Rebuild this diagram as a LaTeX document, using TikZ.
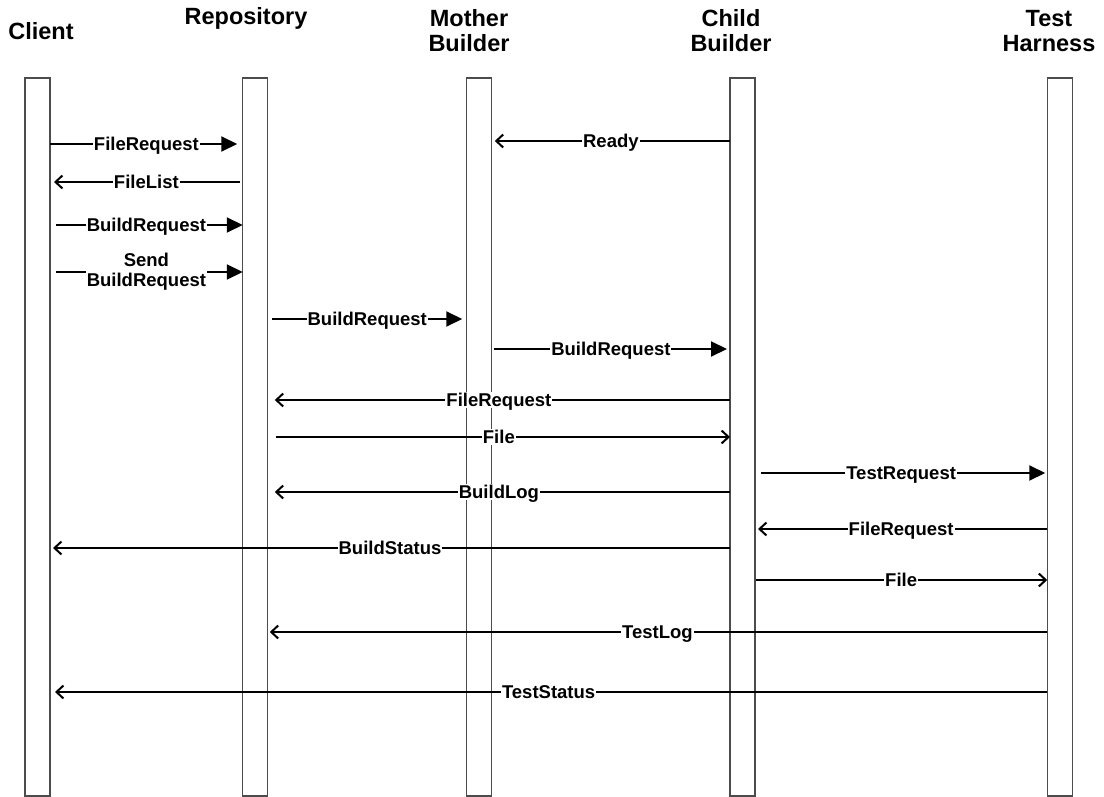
\documentclass[tikz,border=0pt]{standalone}
\usepackage{fontspec}
\setmainfont{Liberation Sans}
\usetikzlibrary{arrows.meta}
\begin{document}
\begin{tikzpicture}[x=1pt,y=-1pt,
  life/.style={draw=black!70,line width=1.2pt,fill=none,minimum width=25pt,minimum height=718pt,inner sep=0pt,outer sep=0pt},
  title/.style={font=\fontsize{23.5}{25}\selectfont\bfseries,align=center,inner sep=0pt},
  lab/.style={font=\fontsize{18.5}{20}\selectfont\bfseries,fill=white,inner sep=1pt,text height=13.3pt,text depth=0pt},
  lab2/.style={font=\fontsize{18.5}{20}\selectfont\bfseries,fill=white,inner sep=1pt,align=center},
  msgblock/.style={line width=2pt,-{Triangle[length=16pt,width=15pt]}},
  msgopen/.style={line width=2pt,-{Straight Barb[length=7pt,width=13pt,line width=2pt]}}]
\useasboundingbox (0,0) rectangle (1104,797);
% lifelines
\node[life] (C) at (37.5,437) {};
\node[life] (R) at (255.25,437) {};
\node[life] (M) at (479.25,437) {};
\node[life] (K) at (742.5,437) {};
\node[life] (T) at (1059.75,437) {};
% titles
\node[title] (tC) at (41,31) {Client};
\node[title] (tR) at (246,18) {Repository};
\node[title] (tM) at (469,31) {Mother\\Builder};
\node[title] (tK) at (731,31) {Child\\Builder};
\node[title] (tT) at (1049,31) {Test\\Harness};
% messages
\draw[msgblock,shorten >=5.5pt] (C.east |- 0,144) -- node[lab]{FileRequest} (R.west |- 0,144);
\draw[msgopen,shorten <=2.5pt,shorten >=4pt] (R.west |- 0,182) -- node[lab]{FileList} (C.east |- 0,182);
\draw[msgblock,shorten <=6pt] (C.east |- 0,225) -- node[lab]{BuildRequest} (R.west |- 0,225);
\draw[msgblock,shorten <=6pt] (C.east |- 0,272) -- node[lab2]{Send\\BuildRequest} (R.west |- 0,272);
\draw[msgblock,shorten <=4pt,shorten >=4.5pt] (R.east |- 0,319) -- node[lab]{BuildRequest} (M.west |- 0,319);
\draw[msgopen,shorten <=0pt,shorten >=3pt] (K.west |- 0,141) -- node[lab]{Ready} (M.east |- 0,141);
\draw[msgblock,shorten <=2pt,shorten >=3pt] (M.east |- 0,349) -- node[lab]{BuildRequest} (K.west |- 0,349);
\draw[msgopen,shorten >=7pt] (K.west |- 0,400) -- node[lab]{FileRequest} (R.east |- 0,400);
\draw[msgopen,shorten <=8pt] (R.east |- 0,437) -- node[lab]{File} (K.west |- 0,437);
\draw[msgblock,shorten <=6pt,shorten >=2pt] (K.east |- 0,473) -- node[lab]{TestRequest} (T.west |- 0,473);
\draw[msgopen,shorten >=7pt] (K.west |- 0,492) -- node[lab]{BuildLog} (R.east |- 0,492);
\draw[msgopen,shorten >=3pt] (T.west |- 0,529) -- node[lab]{FileRequest} (K.east |- 0,529);
\draw[msgopen,shorten >=3pt] (K.west |- 0,548) -- node[lab]{BuildStatus} (C.east |- 0,548);
\draw[msgopen,shorten <=1pt] (K.east |- 0,580) -- node[lab]{File} (T.west |- 0,580);
\draw[msgopen,shorten >=2pt] (T.west |- 0,632) -- node[lab]{TestLog} (R.east |- 0,632);
\draw[msgopen,shorten >=5pt] (T.west |- 0,692) -- node[lab]{TestStatus} (C.east |- 0,692);
\end{tikzpicture}
\end{document}
